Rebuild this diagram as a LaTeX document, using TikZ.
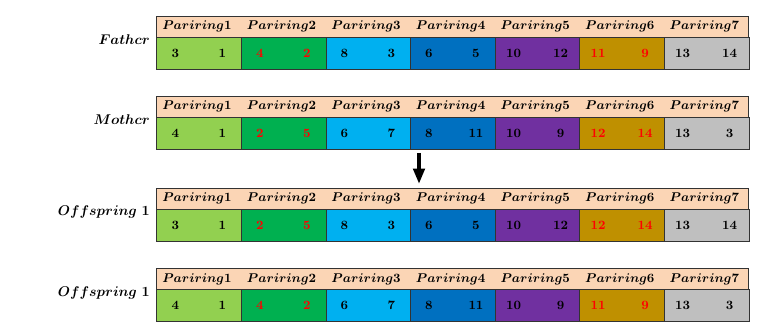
\documentclass[tikz,border=0pt]{standalone}
\usetikzlibrary{arrows.meta}
\definecolor{peach}{RGB}{251,213,181}
\definecolor{cell1}{RGB}{146,208,80}
\definecolor{cell2}{RGB}{0,176,80}
\definecolor{cell3}{RGB}{0,176,240}
\definecolor{cell4}{RGB}{0,112,192}
\definecolor{cell5}{RGB}{112,48,160}
\definecolor{cell6}{RGB}{191,144,0}
\definecolor{cell7}{RGB}{191,191,191}
\colorlet{num1}{black}
\colorlet{num2}{red}
\colorlet{num3}{black}
\colorlet{num4}{black}
\colorlet{num5}{black}
\colorlet{num6}{red}
\colorlet{num7}{black}
\begin{document}
\begin{tikzpicture}[x=0.025cm, y=-0.025cm,
  headbox/.style={draw=black!80, line width=0.7pt, fill=peach, minimum width=14.8cm, minimum height=0.525cm, inner sep=0pt},
  cellbox/.style={draw=black!80, line width=0.7pt, minimum width=2.114cm, minimum height=0.8cm, inner sep=0pt},
  pairlab/.style={anchor=west, inner sep=0pt, font=\fontsize{9.5}{11}\selectfont\boldmath},
  genelab/.style={inner sep=0pt, font=\small\bfseries},
  rowlab/.style={anchor=east, inner sep=0pt, font=\boldmath},
  bigarrow/.style={-{Triangle[width=8pt,length=11pt]}, line width=2.8pt}
]
\useasboundingbox (0,0) rectangle (784,334);

% one row per chromosome
\foreach \r/\ty/\lab/\vals in {
  fa/16/{$Fathcr$}/{3/1,4/2,8/3,6/5,10/12,11/9,13/14},
  mo/96/{$Mothcr$}/{4/1,2/5,6/7,8/11,10/9,12/14,13/3},
  ofa/188.3/{$Offspring\ 1$}/{3/1,2/5,8/3,6/5,10/12,12/14,13/14},
  ofb/268.7/{$Offspring\ 1$}/{4/1,4/2,6/7,8/11,10/9,11/9,13/3}}
{
  \node[headbox] (\r h) at (452.5,\ty+10.5) {};
  \node[rowlab] (\r lab) at (150,\ty+24) {\lab};
  \foreach \a/\b [count=\i] in \vals {
    \node[cellbox, fill=cell\i] (\r\i) at (157+84.57*\i-42.29,\ty+37) {};
    \node[pairlab] (\r\i p) at (157+84.57*\i-79.57,\ty+10.5) {$Pariring\i$};
    \node[genelab, text=num\i] (\r\i a) at (157+84.57*\i-66.29,\ty+37) {\a};
    \node[genelab, text=num\i] (\r\i b) at (157+84.57*\i-19.29,\ty+37) {\b};
  }
}

\coordinate (arrtop) at (419,153);
\coordinate (arrbot) at (419,184);
\draw[bigarrow] (arrtop) -- (arrbot);
\end{tikzpicture}
\end{document}
